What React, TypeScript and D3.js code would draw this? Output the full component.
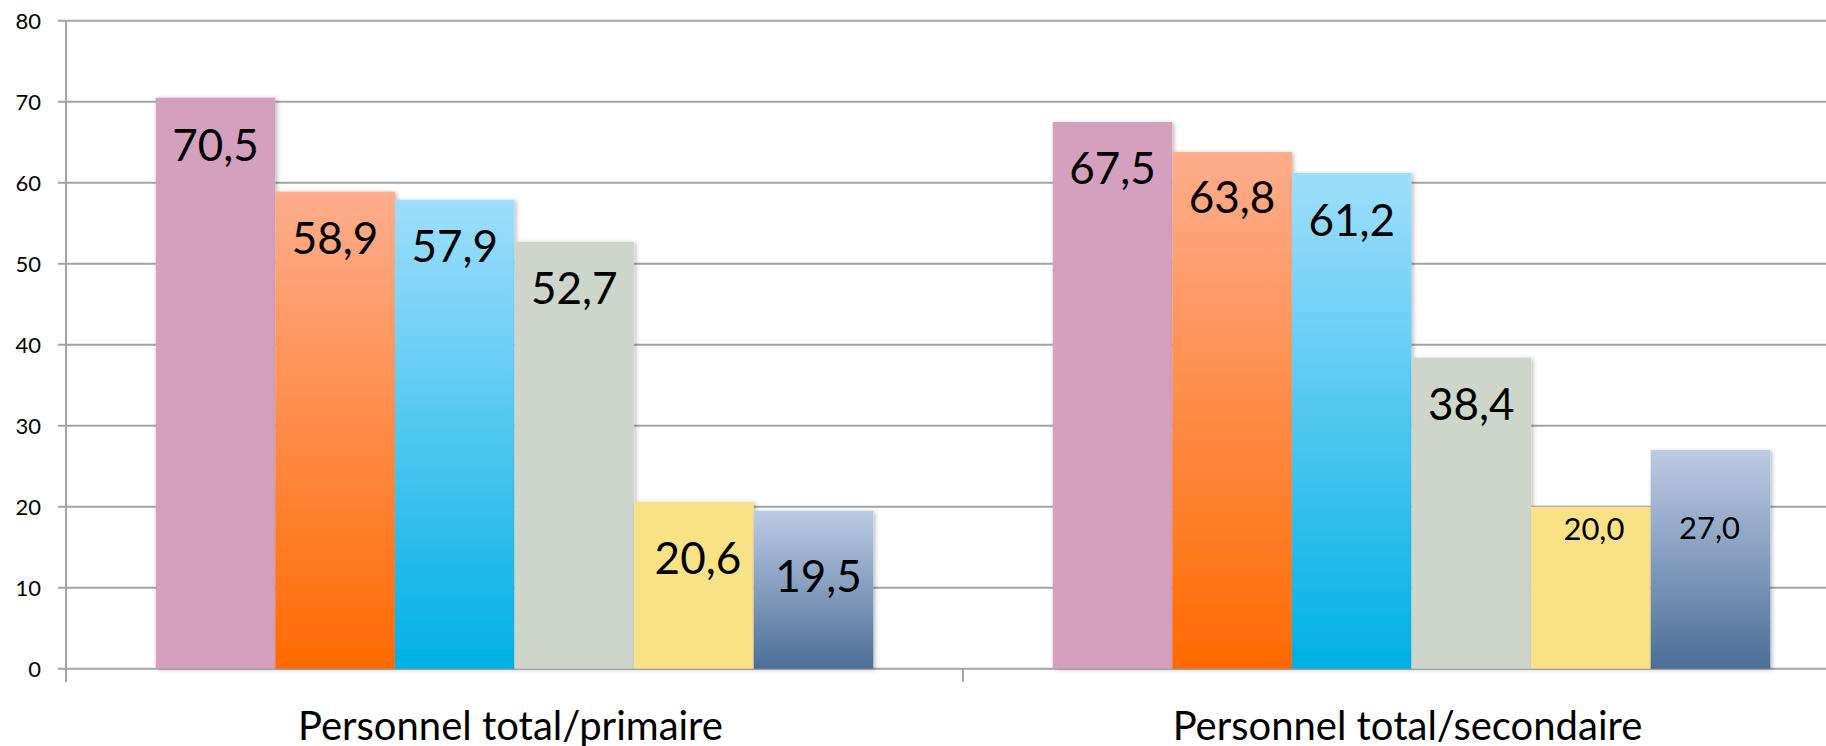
import React from "react";
import * as d3 from "d3";

const categories = ["Personnel total/primaire", "Personnel total/secondaire"];
const series = ["s1", "s2", "s3", "s4", "s5", "s6"];
const primaire = [70.5, 58.9, 57.9, 52.7, 20.6, 19.5];
const secondaire = [67.5, 63.8, 61.2, 38.4, 20.0, 27.0];
const valuesByCategory = [primaire, secondaire];
const yTicks = [0, 10, 20, 30, 40, 50, 60, 70, 80];

// styling (not data)
const seriesFill = [
  { top: "#D5A0BD", bottom: "#D5A0BD" },
  { top: "#FDAD8D", bottom: "#FF6A00" },
  { top: "#9FDEFC", bottom: "#00B0E5" },
  { top: "#CED5CA", bottom: "#CED5CA" },
  { top: "#F9E286", bottom: "#F9E286" },
  { top: "#BCCBE4", bottom: "#4C6E98" },
];
// label font size and baseline offset below bar top, per category/series
const labelSizes = [
  [44, 44, 44, 44, 44, 44],
  [44, 44, 44, 44, 31, 31],
];
const labelOffsets = [
  [63, 62, 62, 62, 72, 81],
  [62, 61, 63, 62, 33, 89],
];
const labelShift = [
  [0, 0, 0, 0, 4, 5],
  [0, 0, 0, 0, 3, -1],
];

const W = 1826;
const H = 746;
const FONT = "Lato, 'Open Sans', sans-serif";

export default function App() {
  const x0 = 66;
  const x1 = 1860;
  const yBottom = 668.7;
  const yTop = 20.7;

  const xCat = d3.scaleBand<string>().domain(categories).range([x0, x1]).padding(0);
  const xSer = d3
    .scaleBand<string>()
    .domain(series)
    .range([0, xCat.bandwidth()])
    .paddingInner(0)
    .paddingOuter(0.75);
  const y = d3.scaleLinear().domain([0, 80]).range([yBottom, yTop]);

  const catTicks = [x0, ...categories.map((c) => (xCat(c) as number) + xCat.bandwidth())];

  return (
    <svg
      width={W}
      height={H}
      style={{ position: "absolute", left: 0, top: 0, display: "block", background: "#fff" }}
    >
      <defs>
        {seriesFill.map((f, i) => (
          <linearGradient key={i} id={`g${i}`} x1="0" y1="0" x2="0" y2="1">
            <stop offset="0%" stopColor={f.top} />
            <stop offset="100%" stopColor={f.bottom} />
          </linearGradient>
        ))}
        <filter id="shadow" x="-10%" y="-10%" width="130%" height="130%">
          <feDropShadow dx="2" dy="1" stdDeviation="2" floodColor="#000" floodOpacity="0.25" />
        </filter>
      </defs>

      {/* gridlines */}
      {yTicks.map((t) => (
        <line
          key={t}
          x1={58}
          x2={x1}
          y1={y(t)}
          y2={y(t)}
          stroke="#A3A3A3"
          strokeWidth={2}
        />
      ))}
      {/* y axis line */}
      <line x1={x0} x2={x0} y1={yTop} y2={yBottom + 13} stroke="#A3A3A3" strokeWidth={2} />
      {/* category ticks */}
      {catTicks.map((cx, i) => (
        <line key={i} x1={cx} x2={cx} y1={yBottom} y2={yBottom + 13} stroke="#A3A3A3" strokeWidth={2} />
      ))}

      {/* y tick labels */}
      {yTicks.map((t) => (
        <text
          key={t}
          x={41}
          y={y(t) + 8}
          textAnchor="end"
          fontFamily={FONT}
          fontSize={22}
          fill="#000"
        >
          {t}
        </text>
      ))}

      {/* bars */}
      {categories.map((c, ci) =>
        series.map((s, si) => {
          const v = valuesByCategory[ci][si];
          const bx = (xCat(c) as number) + (xSer(s) as number);
          const bw = xSer.bandwidth();
          return (
            <rect
              key={`${ci}-${si}`}
              x={bx}
              y={y(v)}
              width={bw}
              height={y(0) - y(v)}
              fill={`url(#g${si})`}
              filter="url(#shadow)"
            />
          );
        })
      )}

      {/* value labels */}
      {categories.map((c, ci) =>
        series.map((s, si) => {
          const v = valuesByCategory[ci][si];
          const bx =
            (xCat(c) as number) + (xSer(s) as number) + xSer.bandwidth() / 2 + labelShift[ci][si];
          return (
            <text
              key={`l${ci}-${si}`}
              x={bx}
              y={y(v) + labelOffsets[ci][si]}
              textAnchor="middle"
              fontFamily={FONT}
              fontSize={labelSizes[ci][si]}
              fill="#000"
            >
              {d3.format(".1f")(v).replace(".", ",")}
            </text>
          );
        })
      )}

      {/* category labels */}
      {categories.map((c) => (
        <text
          key={c}
          x={(xCat(c) as number) + xCat.bandwidth() / 2 - 4}
          y={740}
          textAnchor="middle"
          fontFamily={FONT}
          fontSize={40}
          fill="#000"
        >
          {c}
        </text>
      ))}
    </svg>
  );
}
